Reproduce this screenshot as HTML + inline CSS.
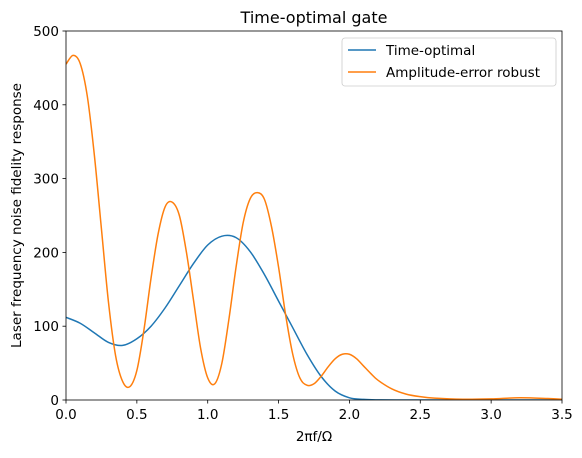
<!DOCTYPE html>
<html><head><meta charset="utf-8"><style>
body{margin:0;background:#fff;font-family:"Liberation Sans","DejaVu Sans",sans-serif;}
svg text{font-family:"DejaVu Sans","Liberation Sans",sans-serif;fill:#000;}
</style></head><body>
<svg id="chart" width="582" height="453" xmlns="http://www.w3.org/2000/svg">
<g id="plot"></g>
</svg>
<script>
const xTicks=[0,0.5,1.0,1.5,2.0,2.5,3.0,3.5];
const xTickLabels=["0.0","0.5","1.0","1.5","2.0","2.5","3.0","3.5"];
const yTicks=[0,100,200,300,400,500];
const blueX=[0,0.1,0.2,0.3,0.4,0.5,0.6,0.7,0.8,0.9,1.0,1.1,1.2,1.3,1.4,1.5,1.6,1.7,1.8,1.9,2.0,2.1,2.2,2.4,2.6,3.0,3.5];
const blueY=[112,104,91,78,74,83,100,125,155,185,210,222,220,201,170,134,98,62,32,12,3,0.8,0.2,0,0,0,0];
const orangeX=[0,0.05,0.1,0.15,0.2,0.25,0.3,0.35,0.4,0.45,0.5,0.55,0.6,0.65,0.7,0.75,0.8,0.85,0.9,0.95,1.0,1.05,1.1,1.15,1.2,1.25,1.3,1.35,1.4,1.45,1.5,1.55,1.6,1.65,1.7,1.75,1.8,1.85,1.9,1.95,2.0,2.05,2.1,2.15,2.2,2.3,2.4,2.5,2.6,2.8,3.0,3.2,3.4,3.5];
const orangeY=[455,467,456,412,332,232,132,60,25,18,40,95,165,225,262,268,250,200,135,70,30,22,50,110,180,240,273,281,272,235,180,115,62,30,20,22,32,45,56,62,62,56,46,36,27,15,8,4.5,2.5,1,1.5,3,2,1];
const L=66,R=562,T=31,B=400;
const sx=v=>L+(v/3.5)*(R-L), sy=v=>B-(v/500)*(B-T);
const NS="http://www.w3.org/2000/svg", g=document.getElementById('plot');
function mk(t,a,txt){const e=document.createElementNS(NS,t);for(const k in a)e.setAttribute(k,a[k]);if(txt!=null)e.textContent=txt;g.appendChild(e);return e;}
function path(xs,ys){const p=xs.map((x,i)=>[sx(x),sy(ys[i])]);let d=`M${p[0][0]},${p[0][1]}`;
for(let i=0;i<p.length-1;i++){const p0=p[i-1]||p[i],p1=p[i],p2=p[i+1],p3=p[i+2]||p2;
d+=` C${p1[0]+(p2[0]-p0[0])/6},${p1[1]+(p2[1]-p0[1])/6} ${p2[0]-(p3[0]-p1[0])/6},${p2[1]-(p3[1]-p1[1])/6} ${p2[0]},${p2[1]}`;}return d;}
const clip=mk('clipPath',{id:'c'});const cr=document.createElementNS(NS,'rect');cr.setAttribute('x',L);cr.setAttribute('y',T);cr.setAttribute('width',R-L);cr.setAttribute('height',B-T);clip.appendChild(cr);
let e;
e=mk('path',{d:path(blueX,blueY),fill:'none',stroke:'#1f77b4','stroke-width':1.5,'clip-path':'url(#c)'});

e=mk('path',{d:path(orangeX,orangeY),fill:'none',stroke:'#ff7f0e','stroke-width':1.5,'clip-path':'url(#c)'});

e=mk('rect',{x:L,y:T,width:R-L,height:B-T,fill:'none',stroke:'#000','stroke-width':0.8});

xTicks.forEach((v,i)=>{mk('line',{x1:sx(v),x2:sx(v),y1:B,y2:B+3.5,stroke:'#000','stroke-width':0.8});
e=mk('text',{x:sx(v),y:B+19,'text-anchor':'middle','font-size':13.5},xTickLabels[i]);
});
yTicks.forEach(v=>{mk('line',{x1:L-3.5,x2:L,y1:sy(v),y2:sy(v),stroke:'#000','stroke-width':0.8});
e=mk('text',{x:L-7,y:sy(v)+5,'text-anchor':'end','font-size':13.5},String(v));
});
e=mk('text',{x:(L+R)/2,y:23,'text-anchor':'middle','font-size':16},'Time-optimal gate');

e=mk('text',{x:(L+R)/2,y:441,'text-anchor':'middle','font-size':13.5},'2πf/Ω');

e=mk('text',{x:0,y:0,'text-anchor':'middle','font-size':13.5,transform:`translate(21,${(T+B)/2}) rotate(-90)`},'Laser frequency noise fidelity response');

e=mk('rect',{x:342,y:38,width:214,height:48,rx:3,fill:'#fff',stroke:'#ccc','stroke-width':0.8});

mk('line',{x1:348,x2:376,y1:50,y2:50,stroke:'#1f77b4','stroke-width':1.5});
e=mk('text',{x:386,y:55,'font-size':13.5},'Time-optimal');

mk('line',{x1:348,x2:376,y1:72,y2:72,stroke:'#ff7f0e','stroke-width':1.5});
e=mk('text',{x:386,y:77,'font-size':13.5},'Amplitude-error robust');

</script>
</body></html>
